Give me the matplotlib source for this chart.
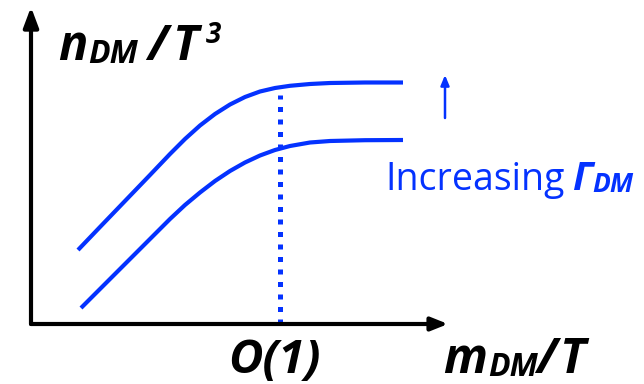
import matplotlib
matplotlib.use("Agg")
import matplotlib.pyplot as plt
from matplotlib.transforms import IdentityTransform

BLUE = "#0432FF"
FONT = "Open Sans"

# Schematic data in arbitrary units (origin at the axes corner; O(1) sits at x = 249)
x_upper = [47, 69, 94, 119, 139, 154, 169, 184, 199, 214, 229, 244, 259, 279, 299, 334, 372]
y_upper = [74, 97, 123, 149, 170, 185, 198.5, 210, 219.5, 227, 232.5, 236, 238.2, 240, 241, 241.5, 241.5]
x_lower = [50, 69, 94, 119, 139, 154, 169, 184, 199, 214, 229, 244, 259, 279, 299, 334, 372]
y_lower = [16, 35, 60, 85, 105, 119, 131.5, 143, 153, 161.5, 168.5, 174, 178, 181.5, 183, 183.8, 184]
x_order_one = 249
y_dotted_top = 229
x_arrow = 414
y_arrow = [206, 249]
x_max, y_max = 417, 317

W, H = 644, 384
fig = plt.figure(figsize=(W / 100, H / 100), dpi=100)
ax = fig.add_axes([31 / W, 60 / H, 417 / W, 317 / H])
ax.set_xlim(0, x_max)
ax.set_ylim(0, y_max)
ax.axis("off")

# axes with arrows
ax.annotate("", xy=(0, y_max), xytext=(0, 0),
            arrowprops=dict(arrowstyle="-|>,head_length=1.2,head_width=0.45",
                            lw=3, color="black", shrinkA=0, shrinkB=0),
            annotation_clip=False)
ax.annotate("", xy=(x_max, 0), xytext=(0, 0),
            arrowprops=dict(arrowstyle="-|>,head_length=1.0,head_width=0.4",
                            lw=3, color="black", shrinkA=0, shrinkB=0),
            annotation_clip=False)

ax.plot(x_upper, y_upper, color=BLUE, lw=3.0, solid_capstyle="butt",
        solid_joinstyle="round", clip_on=False)
ax.plot(x_lower, y_lower, color=BLUE, lw=3.0, solid_capstyle="butt",
        solid_joinstyle="round", clip_on=False)
ax.plot([x_order_one, x_order_one], [0, y_dotted_top], color=BLUE, lw=3.6,
        dashes=(1, 1.5), dash_capstyle="butt", clip_on=False)

ax.annotate("", xy=(x_arrow, y_arrow[1]), xytext=(x_arrow, y_arrow[0]),
            arrowprops=dict(arrowstyle="-|>,head_length=0.6,head_width=0.25",
                            lw=1.8, color=BLUE, shrinkA=0, shrinkB=0),
            annotation_clip=False)


def put(x, y, s, size, **kw):
    """x, y in pixels from top-left; y is the baseline."""
    fig.text(x, H - y, s, transform=IdentityTransform(), fontsize=size,
             va="baseline", ha="left", family=FONT, **kw)


BI = dict(weight="bold", style="italic", color="black")
BIb = dict(weight="bold", style="italic", color=BLUE)

put(58, 60, "n", 35, **BI)
put(88, 63, "DM", 23, **BI)
put(147, 60, "/", 35, **BI)
put(172, 60, "T", 35, **BI)
put(206, 43, "3", 20, **BI)

put(228, 373, "O(1)", 34, **BI)

put(443, 373, "m", 35, **BI)
put(488, 376, "DM", 23, **BI)
put(536, 373, "/", 35, **BI)
put(559, 373, "T", 35, **BI)

put(385, 190, "Increasing", 27, color=BLUE)
put(573, 190, "Γ", 28, **BIb)
put(592, 192, "DM", 19, **BIb)

fig.savefig("out.png", dpi=100)
